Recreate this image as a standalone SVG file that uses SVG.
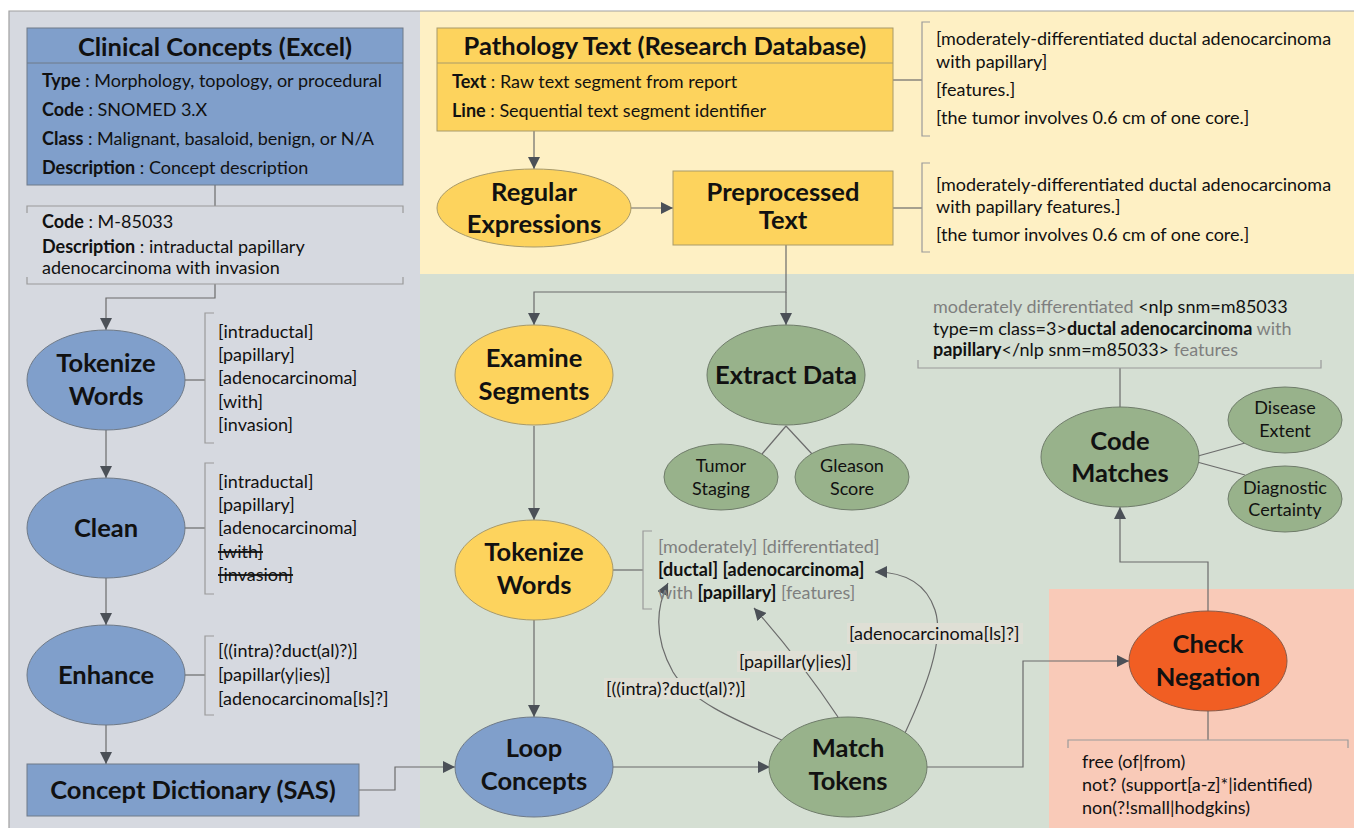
<svg xmlns="http://www.w3.org/2000/svg" width="1354" height="828" viewBox="0 0 1354 828">
<defs>
<marker id="arr" viewBox="0 0 10 10" refX="10" refY="5" markerWidth="12" markerHeight="12" markerUnits="userSpaceOnUse" orient="auto">
<path d="M0,0 L10,5 L0,10 z" fill="#4b5057"/>
</marker>
<style>
text{font-family:Lato,"Liberation Sans",sans-serif;fill:#111}
.h{font-weight:bold;font-size:25.5px}
.hc{font-weight:bold;font-size:25.5px;text-anchor:middle}
.s{font-size:18px}
.sc{font-size:18px;text-anchor:middle}
.b{font-weight:bold}
.g{fill:#7f7f7f}
.conn{stroke:#6b6b6b;stroke-width:1.2;fill:none}
.br{stroke:#9a9a9a;stroke-width:1.2;fill:none}
.blue{fill:#809fcb;stroke:#6f7a88;stroke-width:1}
.yel{fill:#fdd35d;stroke:#a89a6a;stroke-width:1}
.grn{fill:#98b28b;stroke:#6f7c6a;stroke-width:1}
.org{fill:#f15e23;stroke:#8a5a48;stroke-width:1}
.lbl{fill:#dfdfd5}
</style>
</defs>

<g id="panels">
<rect x="9" y="11" width="411" height="817" fill="#d6d9e0"/>
<rect x="420" y="11" width="934" height="263" fill="#fef0c4"/>
<rect x="420" y="274" width="934" height="554" fill="#d5dfd3"/>
<rect x="1049" y="589" width="305" height="239" fill="#f9cab8"/>
<path d="M9,828 V11 H1354" stroke="#a0a0a0" stroke-width="1.2" fill="none"/>
</g>

<g id="connectors">
<path class="conn" d="M215,185 V206"/>
<path class="conn" d="M215,284 V298 H106 V330" marker-end="url(#arr)"/>
<path class="conn" d="M106,430 V478" marker-end="url(#arr)"/>
<path class="conn" d="M106,578 V625" marker-end="url(#arr)"/>
<path class="conn" d="M106,725 V764" marker-end="url(#arr)"/>
<path class="conn" d="M359,790 H395 V767 H455" marker-end="url(#arr)"/>
<path class="conn" d="M534,131 V169" marker-end="url(#arr)"/>
<path class="conn" d="M630,208 H673" marker-end="url(#arr)"/>
<path class="conn" d="M893,80 H922"/>
<path class="conn" d="M893,208 H922"/>
<path class="conn" d="M786,245 V292 H534 V325" marker-end="url(#arr)"/>
<path class="conn" d="M786,292 V325" marker-end="url(#arr)"/>
<path class="conn" d="M786,426 L762,454"/>
<path class="conn" d="M786,426 L812,454"/>
<path class="conn" d="M534,426 V520" marker-end="url(#arr)"/>
<path class="conn" d="M612,570 H643"/>
<path class="conn" d="M534,620 V717" marker-end="url(#arr)"/>
<path class="conn" d="M612,767 H770" marker-end="url(#arr)"/>
<path class="conn" d="M927,767 H1023 V661 H1129" marker-end="url(#arr)"/>
<path class="conn" d="M1208,711 V740"/>
<path class="conn" d="M1208,611 V562 H1120 V507" marker-end="url(#arr)"/>
<path class="conn" d="M1120,407 V368"/>
<path class="conn" d="M1198,456 L1245,443"/>
<path class="conn" d="M1197,462 L1245,475"/>
<path class="conn" d="M184,380 H205"/>
<path class="conn" d="M184,528 H205"/>
<path class="conn" d="M184,675 H205"/>
<path class="conn" d="M784,741 C730,718 690,700 673,672 C655,640 655,610 668,583" marker-end="url(#arr)"/>
<path class="conn" d="M838,717 Q800,660 754,608" marker-end="url(#arr)"/>
<path class="conn" d="M905,733 C925,690 945,640 935,610 C925,580 900,572 875,572" marker-end="url(#arr)"/>
<rect class="lbl" x="604" y="678" width="146" height="21"/>
<text class="s" x="606" y="695">[((intra)?duct(al)?)]</text>
<rect class="lbl" x="737" y="651" width="120" height="21"/>
<text class="s" x="739" y="668">[papillar(y|ies)]</text>
<rect class="lbl" x="847" y="623" width="176" height="21"/>
<text class="s" x="849" y="640">[adenocarcinoma[ls]?]</text>
</g>

<g id="clinical-concepts">
<rect class="blue" x="27" y="28" width="376" height="157"/>
<line x1="27" y1="63" x2="403" y2="63" stroke="#6f7a88" stroke-width="1"/>
<text class="hc" x="215" y="56">Clinical Concepts (Excel)</text>
<text class="s" x="42" y="87"><tspan class="b">Type</tspan> : Morphology, topology, or procedural</text>
<text class="s" x="42" y="116"><tspan class="b">Code</tspan> : SNOMED 3.X</text>
<text class="s" x="42" y="145"><tspan class="b">Class</tspan> : Malignant, basaloid, benign, or N/A</text>
<text class="s" x="42" y="174"><tspan class="b">Description</tspan> : Concept description</text>
</g>

<g id="concept-example">
<path class="br" d="M27,213 V206 H403 V213"/>
<path class="br" d="M27,277 V284 H403 V277"/>
<text class="s" x="42" y="228"><tspan class="b">Code</tspan> : M-85033</text>
<text class="s" x="42" y="253"><tspan class="b">Description</tspan> : intraductal papillary</text>
<text class="s" x="42" y="274">adenocarcinoma with invasion</text>
</g>

<g id="tokenize-left">
<ellipse class="blue" cx="106" cy="380" rx="79" ry="50"/>
<text class="hc" x="106" y="372">Tokenize</text>
<text class="hc" x="106" y="405">Words</text>
<path class="br" d="M214,313 H205 V443 H214"/>
<text class="s" x="218" y="338">[intraductal]</text>
<text class="s" x="218" y="361">[papillary]</text>
<text class="s" x="218" y="384">[adenocarcinoma]</text>
<text class="s" x="218" y="408">[with]</text>
<text class="s" x="218" y="431">[invasion]</text>
</g>

<g id="clean">
<ellipse class="blue" cx="106" cy="528" rx="79" ry="50"/>
<text class="hc" x="106" y="537">Clean</text>
<path class="br" d="M214,463 H205 V594 H214"/>
<text class="s" x="218" y="488">[intraductal]</text>
<text class="s" x="218" y="511">[papillary]</text>
<text class="s" x="218" y="534">[adenocarcinoma]</text>
<text class="s" x="218" y="558" text-decoration="line-through">[with]</text>
<text class="s" x="218" y="581" text-decoration="line-through">[invasion]</text>
</g>

<g id="enhance">
<ellipse class="blue" cx="106" cy="675" rx="79" ry="50"/>
<text class="hc" x="106" y="684">Enhance</text>
<path class="br" d="M214,636 H205 V715 H214"/>
<text class="s" x="218" y="657">[((intra)?duct(al)?)]</text>
<text class="s" x="218" y="681">[papillar(y|ies)]</text>
<text class="s" x="218" y="705">[adenocarcinoma[ls]?]</text>
</g>

<g id="concept-dictionary">
<rect class="blue" x="27" y="764" width="332" height="52"/>
<text class="hc" x="193" y="799">Concept Dictionary (SAS)</text>
</g>

<g id="pathology-text">
<rect class="yel" x="437" y="28" width="456" height="103"/>
<line x1="437" y1="63" x2="893" y2="63" stroke="#a89a6a" stroke-width="1"/>
<text class="hc" x="665" y="55">Pathology Text (Research Database)</text>
<text class="s" x="452" y="88"><tspan class="b">Text</tspan> : Raw text segment from report</text>
<text class="s" x="452" y="117"><tspan class="b">Line</tspan> : Sequential text segment identifier</text>
<path class="br" d="M930,22 H922 V136 H930"/>
<text class="s" x="936" y="45">[moderately-differentiated ductal adenocarcinoma</text>
<text class="s" x="936" y="68">with papillary]</text>
<text class="s" x="936" y="96">[features.]</text>
<text class="s" x="936" y="124">[the tumor involves 0.6 cm of one core.]</text>
</g>

<g id="regular-expressions">
<ellipse class="yel" cx="534" cy="208" rx="97" ry="39"/>
<text class="hc" x="534" y="201">Regular</text>
<text class="hc" x="534" y="233">Expressions</text>
</g>

<g id="preprocessed-text">
<rect class="yel" x="673" y="171" width="220" height="74"/>
<text class="hc" x="783" y="201">Preprocessed</text>
<text class="hc" x="783" y="229">Text</text>
<path class="br" d="M930,163 H922 V252 H930"/>
<text class="s" x="936" y="191">[moderately-differentiated ductal adenocarcinoma</text>
<text class="s" x="936" y="213">with papillary features.]</text>
<text class="s" x="936" y="241">[the tumor involves 0.6 cm of one core.]</text>
</g>

<g id="examine-segments">
<ellipse class="yel" cx="534" cy="375" rx="79" ry="50"/>
<text class="hc" x="534" y="367">Examine</text>
<text class="hc" x="534" y="400">Segments</text>
</g>

<g id="extract-data">
<ellipse class="grn" cx="786" cy="375" rx="79" ry="50"/>
<text class="hc" x="786" y="384">Extract Data</text>
</g>

<g id="tumor-staging">
<ellipse class="grn" cx="721" cy="477" rx="57" ry="33"/>
<text class="sc" x="721" y="472">Tumor</text>
<text class="sc" x="721" y="495">Staging</text>
</g>

<g id="gleason-score">
<ellipse class="grn" cx="852" cy="477" rx="57" ry="33"/>
<text class="sc" x="852" y="472">Gleason</text>
<text class="sc" x="852" y="495">Score</text>
</g>

<g id="tokenize-words">
<ellipse class="yel" cx="534" cy="570" rx="79" ry="50"/>
<text class="hc" x="534" y="561">Tokenize</text>
<text class="hc" x="534" y="594">Words</text>
<path class="br" d="M652,531 H643 V609 H652"/>
<text class="s g" x="658" y="553">[moderately] [differentiated]</text>
<text class="s b" x="658" y="576">[ductal] [adenocarcinoma]</text>
<text class="s" x="658" y="599"><tspan class="g">with </tspan><tspan class="b">[papillary]</tspan><tspan class="g"> [features]</tspan></text>
</g>

<g id="loop-concepts">
<ellipse class="blue" cx="534" cy="767" rx="79" ry="50"/>
<text class="hc" x="534" y="757">Loop</text>
<text class="hc" x="534" y="790">Concepts</text>
</g>

<g id="match-tokens">
<ellipse class="grn" cx="848" cy="767" rx="79" ry="50"/>
<text class="hc" x="848" y="757">Match</text>
<text class="hc" x="848" y="790">Tokens</text>
</g>

<g id="check-negation">
<ellipse class="org" cx="1208" cy="661" rx="79" ry="50"/>
<text class="hc" x="1208" y="653">Check</text>
<text class="hc" x="1208" y="686">Negation</text>
<path class="br" d="M1068,748 V740 H1348 V748"/>
<text class="s" x="1082" y="768">free (of|from)</text>
<text class="s" x="1082" y="791">not? (support[a-z]*|identified)</text>
<text class="s" x="1082" y="814">non(?!small|hodgkins)</text>
</g>

<g id="code-matches">
<ellipse class="grn" cx="1120" cy="457" rx="79" ry="50"/>
<text class="hc" x="1120" y="450">Code</text>
<text class="hc" x="1120" y="482">Matches</text>
<path class="br" d="M918,360 V368 H1321 V360"/>
<text class="s" x="933" y="313"><tspan class="g">moderately differentiated</tspan> &lt;nlp snm=m85033</text>
<text class="s" x="933" y="335">type=m class=3&gt;<tspan class="b">ductal adenocarcinoma</tspan><tspan class="g"> with</tspan></text>
<text class="s" x="933" y="356"><tspan class="b">papillary</tspan>&lt;/nlp snm=m85033&gt;<tspan class="g"> features</tspan></text>
</g>

<g id="disease-extent">
<ellipse class="grn" cx="1285" cy="420" rx="57" ry="33"/>
<text class="sc" x="1285" y="414">Disease</text>
<text class="sc" x="1285" y="437">Extent</text>
</g>

<g id="diagnostic-certainty">
<ellipse class="grn" cx="1285" cy="499" rx="57" ry="33"/>
<text class="sc" x="1285" y="494">Diagnostic</text>
<text class="sc" x="1285" y="516">Certainty</text>
</g>
</svg>
